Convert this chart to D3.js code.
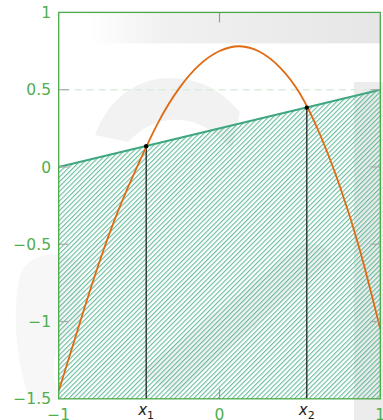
<!DOCTYPE html>
<html><head><meta charset="utf-8">
<script src="https://cdn.jsdelivr.net/npm/d3@7"></script>
<style>html,body{margin:0;padding:0;background:#fff;overflow:hidden}</style>
</head><body>
<svg id="chart" width="383" height="420"></svg>
<script>
// ---- data ----
const xTickValues = [-1, 0, 1];
const yTickValues = [-1.5, -1, -0.5, 0, 0.5, 1];
const innerTickX = [0];
const innerTickY = [-1, -0.5, 0, 0.5];
const lineX = [-1, 1];
const lineY = [0, 0.5];
const curveX = [-1, -0.875, -0.75, -0.625, -0.5, -0.375, -0.25, -0.125, 0, 0.125, 0.25, 0.375, 0.5, 0.625, 0.75, 0.875, 1];
const curveY = [-1.45, -1.03, -0.625, -0.27, 0.03, 0.3, 0.51, 0.66, 0.75, 0.781, 0.745, 0.645, 0.475, 0.21, -0.13, -0.545, -1.05];
const crossX = [-0.456, 0.543];
const crossY = [0.134, 0.384];
const crossLabels = ["1", "2"];
const dashedY = 0.5;
const yMin = -1.5;

const svg = d3.select("#chart");
const x = d3.scaleLinear().domain([-1, 1]).range([58.7, 380.3]);
const y = d3.scaleLinear().domain([-1.5, 1]).range([398.8, 12.4]);
const fmt = v => (v < 0 ? "\u2212" : "") + Math.abs(v);

// ---- faint background watermark ----
const defs = svg.append("defs");
const g1 = defs.append("linearGradient").attr("id", "band").attr("x1", "0").attr("x2", "1");
g1.append("stop").attr("offset", "0").attr("stop-color", "#fff");
g1.append("stop").attr("offset", "0.25").attr("stop-color", "#f1f1f1");
g1.append("stop").attr("offset", "1").attr("stop-color", "#e6e6e6");
const bg = svg.append("g");
bg.append("rect").attr("x", 88).attr("y", y(1)).attr("width", x(1) - 88).attr("height", 31).attr("fill", "url(#band)");
bg.append("rect").attr("x", 354).attr("y", 82).attr("width", 29).attr("height", 338).attr("fill", "#ececec");
bg.append("path").attr("d", "M95,135 C110,95 140,78 170,78 C205,78 225,95 240,112 L232,150 C215,130 195,118 170,120 C150,122 138,132 128,142 Z").attr("fill", "#000").attr("opacity", 0.05);
bg.append("path").attr("d", "M20,275 C30,250 60,250 80,262 L80,340 C60,330 45,360 60,400 L30,400 C15,360 12,310 20,275 Z").attr("fill", "#000").attr("opacity", 0.03);
bg.append("path").attr("d", "M140,372 L300,245 C320,240 335,250 330,262 L175,395 Z").attr("fill", "#000").attr("opacity", 0.05);

// ---- hatch pattern ----
const pat = defs.append("pattern").attr("id", "hatch").attr("patternUnits", "userSpaceOnUse")
  .attr("width", 3.4).attr("height", 10).attr("patternTransform", "rotate(45)");
pat.append("line").attr("x1", 0.6).attr("x2", 0.6).attr("y1", 0).attr("y2", 10)
  .attr("stroke", "#4db28d").attr("stroke-width", 0.95);

const area = d3.area().x((d, i) => x(lineX[i])).y0(y(yMin)).y1((d, i) => y(lineY[i]));
svg.append("path").attr("d", area(lineX)).attr("fill", "url(#hatch)");

// dashed reference
svg.append("line").attr("x1", x(-1)).attr("x2", x(1)).attr("y1", y(dashedY)).attr("y2", y(dashedY))
  .attr("stroke", "#dcecdc").attr("stroke-width", 1.6).attr("stroke-dasharray", "7,5").attr("stroke-dashoffset", -4);

// top line
svg.append("path").attr("d", d3.line().x((d, i) => x(lineX[i])).y((d, i) => y(lineY[i]))(lineX))
  .attr("stroke", "#3ea77f").attr("stroke-width", 2).attr("fill", "none");

// vertical lines
crossX.forEach((cx, i) => {
  svg.append("line").attr("x1", x(cx)).attr("x2", x(cx)).attr("y1", y(crossY[i])).attr("y2", y(yMin))
    .attr("stroke", "#111").attr("stroke-width", 1.2);
});

// curve
svg.append("path").attr("d", d3.line().curve(d3.curveNatural).x((d, i) => x(curveX[i])).y((d, i) => y(curveY[i]))(curveX))
  .attr("stroke", "#e06a12").attr("stroke-width", 1.8).attr("fill", "none");

// dots
crossX.forEach((cx, i) => {
  svg.append("circle").attr("cx", x(cx)).attr("cy", y(crossY[i])).attr("r", 2.2).attr("fill", "#000");
});

// inner ticks
const tickLen = 10;
innerTickY.forEach(v => {
  svg.append("line").attr("x1", x(-1)).attr("x2", x(-1) + tickLen).attr("y1", y(v)).attr("y2", y(v)).attr("stroke", "#aaa").attr("stroke-width", 1.2);
  svg.append("line").attr("x1", x(1)).attr("x2", x(1) - tickLen).attr("y1", y(v)).attr("y2", y(v)).attr("stroke", "#aaa").attr("stroke-width", 1.2);
});
innerTickX.forEach(v => {
  svg.append("line").attr("x1", x(v)).attr("x2", x(v)).attr("y1", y(1)).attr("y2", y(1) + tickLen).attr("stroke", "#999").attr("stroke-width", 1.2);
  svg.append("line").attr("x1", x(v)).attr("x2", x(v)).attr("y1", y(yMin)).attr("y2", y(yMin) - tickLen).attr("stroke", "#999").attr("stroke-width", 1.2);
});

// frame
svg.append("rect").attr("x", x(-1)).attr("y", y(1)).attr("width", x(1) - x(-1)).attr("height", y(yMin) - y(1))
  .attr("fill", "none").attr("stroke", "#4aa84a").attr("stroke-width", 1.3);

// labels
const font = "'DejaVu Sans', sans-serif";
yTickValues.forEach(v => {
  svg.append("text").attr("x", 51).attr("y", y(v) + 5.6).attr("text-anchor", "end")
    .attr("font-family", font).attr("font-size", 15.5).attr("fill", "#4fae4f").text(fmt(v));
});
xTickValues.forEach(v => {
  svg.append("text").attr("x", x(v)).attr("y", 419.5).attr("text-anchor", "middle")
    .attr("font-family", font).attr("font-size", 15.5).attr("fill", "#4fae4f").text(fmt(v));
});
crossX.forEach((cx, i) => {
  const t = svg.append("text").attr("x", x(cx)).attr("y", 414.5).attr("text-anchor", "middle")
    .attr("font-family", font).attr("font-size", 15).attr("fill", "#222");
  t.append("tspan").attr("font-style", "italic").text("x");
  t.append("tspan").attr("font-size", 11).attr("dy", 4).text(crossLabels[i]);
});
</script>
</body></html>
